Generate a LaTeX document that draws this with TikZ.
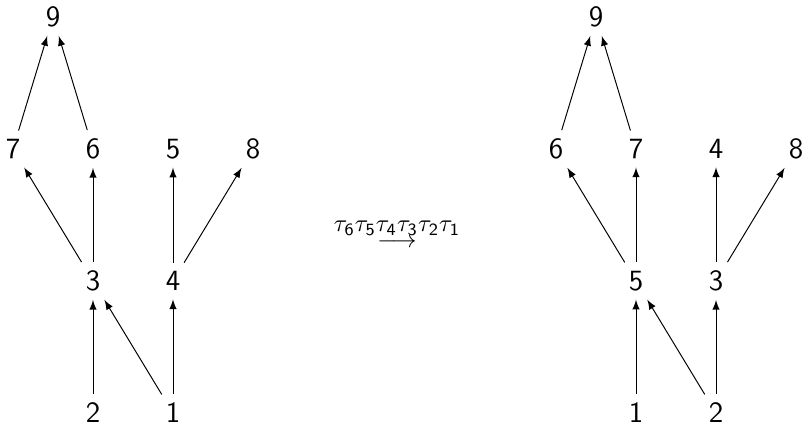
\documentclass[tikz,border=0pt]{standalone}
\usepackage{amsmath}
\usetikzlibrary{arrows.meta}

\begin{document}
\begin{tikzpicture}[x=0.408pt,y=-0.408pt,
    vtx/.style={font=\sffamily\large},
    edge/.style={-latex}]
        \useasboundingbox (0,0) rectangle (806,428);
        \def\ya{17}
        \def\yb{149}
        \def\yc{281}
        \def\yd{413}
        %Left tree
        \node[vtx] (l9) at (53,\ya) {9};
        \node[vtx] (l7) at (13,\yb) {7};
        \node[vtx] (l6) at (93,\yb) {6};
        \node[vtx] (l5) at (173,\yb) {5};
        \node[vtx] (l8) at (253,\yb) {8};
        \node[vtx] (l3) at (93,\yc) {3};
        \node[vtx] (l4) at (173,\yc) {4};
        \node[vtx] (l2) at (93,\yd) {2};
        \node[vtx] (l1) at (173,\yd) {1};
        %Right tree
        \node[vtx] (r9) at (596,\ya) {9};
        \node[vtx] (r6) at (556,\yb) {6};
        \node[vtx] (r7) at (636,\yb) {7};
        \node[vtx] (r4) at (716,\yb) {4};
        \node[vtx] (r8) at (796,\yb) {8};
        \node[vtx] (r5) at (636,\yc) {5};
        \node[vtx] (r3) at (716,\yc) {3};
        \node[vtx] (r1) at (636,\yd) {1};
        \node[vtx] (r2) at (716,\yd) {2};
        %Left edges
        \draw[edge] (l7) -- (l9);
        \draw[edge] (l6) -- (l9);
        \draw[edge] (l3) -- (l7);
        \draw[edge] (l3) -- (l6);
        \draw[edge] (l4) -- (l5);
        \draw[edge] (l4) -- (l8);
        \draw[edge] (l2) -- (l3);
        \draw[edge] (l1) -- (l3);
        \draw[edge] (l1) -- (l4);
        %Right edges
        \draw[edge] (r6) -- (r9);
        \draw[edge] (r7) -- (r9);
        \draw[edge] (r5) -- (r6);
        \draw[edge] (r5) -- (r7);
        \draw[edge] (r3) -- (r4);
        \draw[edge] (r3) -- (r8);
        \draw[edge] (r1) -- (r5);
        \draw[edge] (r2) -- (r5);
        \draw[edge] (r2) -- (r3);
        %Map
        \node (map) at (397,233) {$\overset{\textstyle\tau_{\mathsf{6}}\tau_{\mathsf{5}}\tau_{\mathsf{4}}\tau_{\mathsf{3}}\tau_{\mathsf{2}}\tau_{\mathsf{1}}}{\longrightarrow}$};
      \end{tikzpicture}
\end{document}
